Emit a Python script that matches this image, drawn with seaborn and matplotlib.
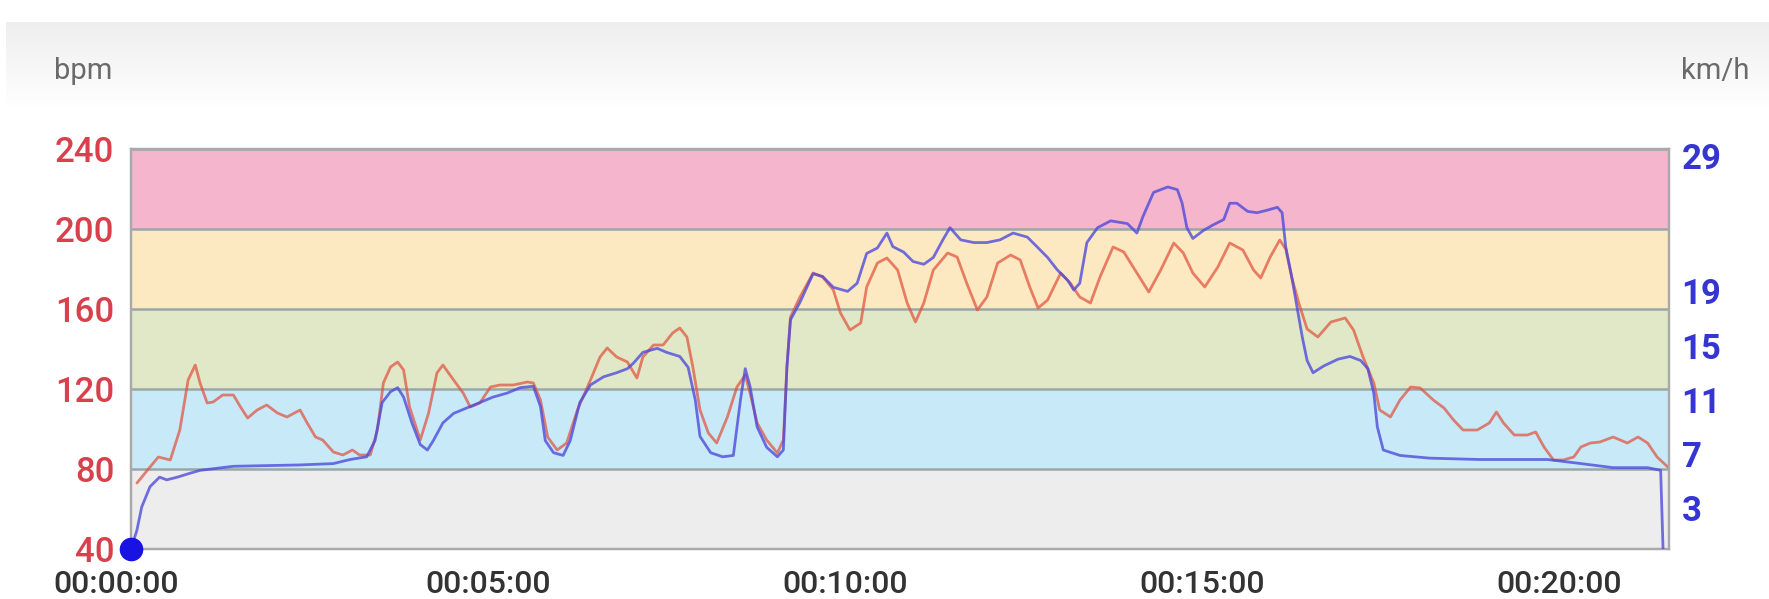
import matplotlib
matplotlib.use('Agg')
import matplotlib.pyplot as plt
import seaborn as sns
import numpy as np
import pandas as pd
from matplotlib.ticker import FuncFormatter
from matplotlib.transforms import ScaledTranslation

# ---- data (seconds, bpm, km/h) ----
hr_time = [5, 16, 23, 33, 41, 48, 54, 58, 64, 69, 77, 86, 92, 98, 106, 114, 123, 131,
           142, 148, 155, 161, 170, 178, 186, 192, 201, 207, 212, 218, 224, 229, 234,
           243, 250, 257, 262, 271, 279, 285, 293, 302, 310, 321, 333, 338, 344, 350,
           358, 366, 375, 386, 394, 400, 408, 417, 425, 430, 439, 447, 455, 461, 467,
           472, 478, 485, 492, 501, 509, 516, 520, 526, 534, 543, 548, 551, 554, 562,
           573, 581, 590, 596, 604, 613, 618, 627, 635, 644, 652, 659, 666, 674, 686,
           694, 702, 711, 719, 728, 739, 747, 755, 762, 770, 781, 789, 797, 806, 814,
           825, 834, 845, 855, 865, 876, 884, 892, 902, 913, 923, 934, 943, 949, 957,
           965, 970, 975, 981, 988, 997, 1008, 1020, 1027, 1035, 1044, 1049, 1058,
           1066, 1075, 1083, 1094, 1103, 1111, 1119, 1131, 1141, 1147, 1153, 1162,
           1173, 1180, 1187, 1195, 1203, 1212, 1218, 1226, 1234, 1245, 1257, 1266,
           1274, 1282, 1291]
hr_bpm = [73, 81, 86, 84.5, 99.5, 124.5, 132, 123, 113, 113.5, 117, 117, 111, 105.5,
          109.5, 112, 108, 106, 109.5, 103, 96, 94.5, 88.5, 87, 89.5, 87, 87, 99.5, 123,
          131, 133.5, 129.5, 111, 94.5, 108, 128, 132, 124.5, 118, 111, 113, 121, 122,
          122, 123.5, 123, 114.5, 96, 89.5, 93, 109.5, 124.5, 136, 140.5, 136, 133.5,
          125.5, 136, 142, 142, 148, 150.5, 146, 131, 109.5, 98, 93, 106, 121, 127, 118,
          103, 94.5, 88, 94.5, 131, 156, 166, 178, 176, 169.5, 158, 149.5, 153, 171, 183,
          185.5, 179.5, 163, 153.5, 163, 179.5, 188, 186, 173, 159.5, 166, 183, 187,
          184.5, 171, 160.5, 164.5, 178, 173, 166, 163, 176, 191, 188.5, 178, 168.5,
          179.5, 193, 188, 178, 171, 181, 193, 189.5, 179.5, 175.5, 186, 194.5, 190,
          176, 163, 150, 146, 153.5, 155.5, 149.5, 136, 123, 109.5, 106, 114.5, 121,
          120.5, 114.5, 110.5, 104.5, 99.5, 99.5, 103, 108.5, 103, 97, 97, 98.5, 91,
          84.5, 84.5, 86, 91, 93, 93.5, 96, 93, 96, 93, 86, 81]

speed_time = [0, 5, 9, 16, 24, 30, 39, 50, 58, 86, 142, 170, 184, 198, 205, 211, 218,
              224, 229, 236, 243, 249, 254, 262, 271, 282, 293, 304, 316, 327, 338, 344,
              348, 355, 363, 369, 377, 386, 397, 408, 417, 422, 430, 442, 450, 461, 468,
              474, 478, 487, 497, 506, 512, 516, 520, 526, 534, 543, 548, 551, 554, 562,
              573, 581, 590, 602, 610, 618, 627, 635, 640, 649, 657, 666, 674, 682, 688,
              697, 708, 719, 730, 741, 753, 761, 770, 778, 787, 792, 797, 803, 812, 823,
              837, 845, 850, 859, 871, 879, 883, 887, 892, 901, 909, 918, 923, 929, 938,
              946, 955, 963, 967, 970, 975, 980, 984, 988, 993, 1002, 1014, 1024, 1033,
              1039, 1044, 1047, 1052, 1066, 1091, 1133, 1190, 1218, 1245, 1274, 1285, 1287]
speed_kmh = [0, 1.4, 3.1, 4.6, 5.3, 5.1, 5.3, 5.6, 5.8, 6.1, 6.2, 6.3, 6.6, 6.8, 8.0,
             10.8, 11.6, 11.9, 11.2, 9.3, 7.7, 7.3, 8.0, 9.3, 10.0, 10.4, 10.8, 11.2,
             11.5, 11.9, 12.0, 10.5, 8.0, 7.1, 6.9, 8.0, 10.8, 12.1, 12.7, 13.0, 13.3,
             13.7, 14.5, 14.8, 14.5, 14.2, 13.4, 11.0, 8.3, 7.1, 6.8, 6.9, 11.0, 13.3,
             12.0, 9.0, 7.5, 6.8, 7.3, 13.4, 16.9, 18.2, 20.3, 20.1, 19.3, 19.0, 19.6,
             21.8, 22.2, 23.3, 22.3, 21.9, 21.2, 21.0, 21.5, 22.8, 23.7, 22.8, 22.6, 22.6,
             22.8, 23.3, 23.0, 22.3, 21.5, 20.6, 19.8, 19.1, 19.6, 22.6, 23.7, 24.2, 24.0,
             23.3, 24.5, 26.3, 26.7, 26.5, 25.5, 23.7, 22.9, 23.5, 23.9, 24.3, 25.5, 25.5,
             24.9, 24.8, 25.0, 25.2, 24.8, 22.3, 20.1, 17.6, 15.6, 13.9, 13.0, 13.5, 14.0,
             14.2, 13.9, 13.3, 11.5, 9.0, 7.3, 6.9, 6.7, 6.6, 6.6, 6.3, 6.0, 6.0, 5.8, 0]

zone_edges = [40, 80, 120, 160, 200, 240]
zone_colors = ['#ededed', '#c8eaf8', '#e1e8c7', '#fde9c1', '#f5b5cc']
bpm_ticks = [40, 80, 120, 160, 200, 240]
speed_ticks = [3, 7, 11, 15, 19, 29]
time_ticks = [0, 300, 600, 900, 1200]

sns.set_theme(style='white')
plt.rcParams['font.family'] = ['Roboto', 'Liberation Sans', 'DejaVu Sans']

W, H = 1769, 599
fig = plt.figure(figsize=(W / 100, H / 100), dpi=100)
fig.patch.set_facecolor('white')

# soft gray gradient header panel
bg = fig.add_axes([6 / W, 0, 1 - 6 / W, (H - 22) / H], zorder=-10)
n = 400
frac = np.linspace(0, 1, n)
v = np.clip(0.935 + 0.065 * frac / 0.15, 0.935, 1.0)
grad = np.repeat(v[:, None, None], 3, axis=2)
bg.imshow(grad, aspect='auto', extent=[0, 1, 0, 1], interpolation='bilinear')
bg.set_axis_off()

ax = fig.add_axes([131 / W, 50 / H, 1538 / W, 400 / H])
ax.set_xlim(0, 1292)
ax.set_ylim(40, 240)
for lo, hi, c in zip(zone_edges[:-1], zone_edges[1:], zone_colors):
    ax.axhspan(lo, hi, color=c, lw=0, zorder=0)
for e in zone_edges:
    ax.axhline(e, color='#9aa7a7', lw=1.8, zorder=1)

ax2 = ax.twinx()
ax2.set_ylim(0, 29.5)

df_hr = pd.DataFrame({'time': hr_time, 'bpm': hr_bpm})
df_sp = pd.DataFrame({'time': speed_time, 'kmh': speed_kmh})
sns.lineplot(data=df_hr, x='time', y='bpm', ax=ax, color='#e0523e', lw=2.0,
             alpha=0.72, zorder=3, estimator=None, sort=False,
             solid_joinstyle='round')
sns.lineplot(data=df_sp, x='time', y='kmh', ax=ax2, color='#4b48dc', lw=2.0,
             alpha=0.78, zorder=3, estimator=None, sort=False,
             solid_joinstyle='round')
ax2.plot(speed_time[:1], speed_kmh[:1], 'o', ms=16, color='#1812e2',
         clip_on=False, zorder=10)

ax.set_xlabel('')
ax.set_ylabel('')
ax2.set_ylabel('')

ax.set_xticks(time_ticks)
ax.xaxis.set_major_formatter(FuncFormatter(
    lambda s, p: f'{int(s) // 3600:02d}:{(int(s) // 60) % 60:02d}:{int(s) % 60:02d}'))
ax.set_yticks(bpm_ticks)
ax2.set_yticks(speed_ticks)

ax.tick_params(axis='x', labelcolor='#333333', labelsize=23, pad=15, length=0)
ax.tick_params(axis='y', labelcolor='#d8414c', labelsize=25, pad=12, length=0)
ax2.tick_params(axis='y', labelcolor='#3535d2', labelsize=25, pad=9, length=0)
for lbl in ax2.get_yticklabels():
    lbl.set_fontweight('bold')
for lbl in ax.get_xticklabels() + ax.get_yticklabels():
    lbl.set_fontweight('medium')

xl = ax.get_xticklabels()
xl[0].set_transform(xl[0].get_transform() +
                    ScaledTranslation(-15 / 100, 0, fig.dpi_scale_trans))

for a in (ax, ax2):
    for sp in a.spines.values():
        sp.set_color('#a9a9a9')
        sp.set_linewidth(1.6)
        sp.set_visible(True)

fig.text(54 / W, 1 - 71 / H, 'bpm', color='#6a6a6a', fontsize=21, va='center', ha='left')
fig.text(1681 / W, 1 - 71 / H, 'km/h', color='#6a6a6a', fontsize=21, va='center', ha='left')

fig.savefig('out.png', dpi=100, facecolor='white')
